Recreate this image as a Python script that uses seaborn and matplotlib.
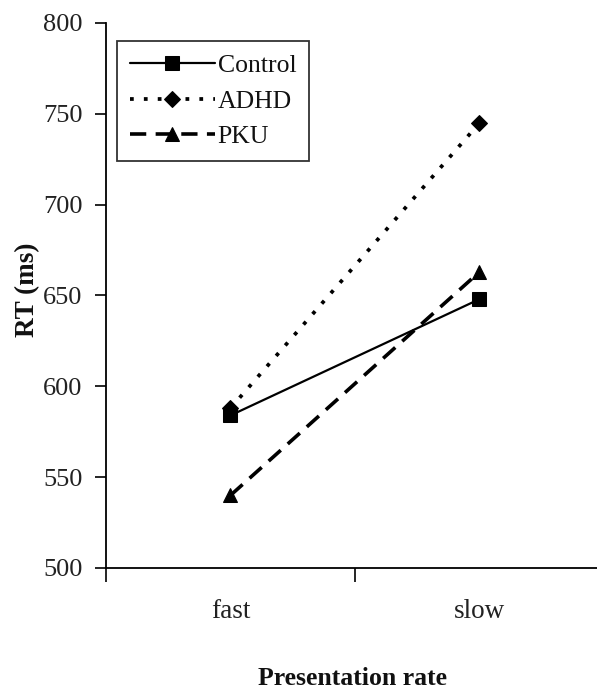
import matplotlib
matplotlib.use("Agg")
import matplotlib.pyplot as plt
import seaborn as sns
import pandas as pd

# Mean reaction times by presentation rate for each group
rates = ["fast", "slow"]
groups = ["Control", "ADHD", "PKU"]
control_rt = [584, 648]
adhd_rt = [588, 745]
pku_rt = [540, 663]

y_ticks = [500, 550, 600, 650, 700, 750, 800]

df = pd.DataFrame({
    "rate": rates * 3,
    "group": [g for g in groups for _ in rates],
    "rt": control_rt + adhd_rt + pku_rt,
})

sns.set_theme(style="white")
plt.rcParams["font.family"] = ["Liberation Serif", "DejaVu Serif"]

fig = plt.figure(figsize=(5.97, 6.93), dpi=100)
ax = fig.add_axes([106 / 597, 125 / 693, 498 / 597, 545 / 693])

styles = {
    "Control": dict(marker="s", linestyle="-", linewidth=1.6, markersize=9.5),
    "ADHD": dict(marker="D", linestyle=(0, (1.0, 2.7)), linewidth=2.7, markersize=8),
    "PKU": dict(marker="^", linestyle=(0, (4.5, 2.6)), linewidth=2.6, markersize=10.5),
}

for g in groups:
    sub = df[df["group"] == g]
    sns.lineplot(data=sub, x="rate", y="rt", ax=ax, color="black",
                 markeredgecolor="black", label=g, sort=False, **styles[g])

ax.set_xlim(-0.5, 1.5)
ax.set_ylim(500, 800)
ax.set_yticks(y_ticks)
ax.set_yticklabels([str(v) for v in y_ticks], fontsize=19, color="#222222")

# Category boundaries carry the tick marks, category centres carry the labels
ax.set_xticks([-0.5, 0.5, 1.5])
ax.set_xticklabels(["", "", ""])
ax.set_xticks([0, 1], minor=True)
ax.set_xticklabels(rates, minor=True, fontsize=19.5, color="#222222")
ax.tick_params(axis="x", which="major", direction="out", length=10, width=1.2,
               color="black", bottom=True)
ax.tick_params(axis="x", which="minor", length=0, pad=22)
ax.tick_params(axis="y", direction="out", length=8, width=1.2, color="black",
               left=True, pad=9)

for side in ["top", "right"]:
    ax.spines[side].set_visible(False)
for side in ["left", "bottom"]:
    ax.spines[side].set_color("black")
    ax.spines[side].set_linewidth(1.3)

ax.set_xlabel("Presentation rate", fontsize=18.5, fontweight="bold", color="#111111")
ax.set_ylabel("RT (ms)", fontsize=19.5, fontweight="bold", color="#111111")
ax.xaxis.set_label_coords(0.494, -0.182)
ax.yaxis.set_label_coords(-0.133, 0.51)

leg = ax.legend(loc="upper left", bbox_to_anchor=(0.022, 0.967), borderaxespad=0,
                fontsize=18.5, frameon=True, fancybox=False, handlelength=3.3,
                handletextpad=0.12, labelspacing=0.5, borderpad=0.5)
leg.get_frame().set_edgecolor("black")
leg.get_frame().set_linewidth(1.3)
for t in leg.get_texts():
    t.set_color("#111111")

fig.savefig("out.png", dpi=100, facecolor="white")
